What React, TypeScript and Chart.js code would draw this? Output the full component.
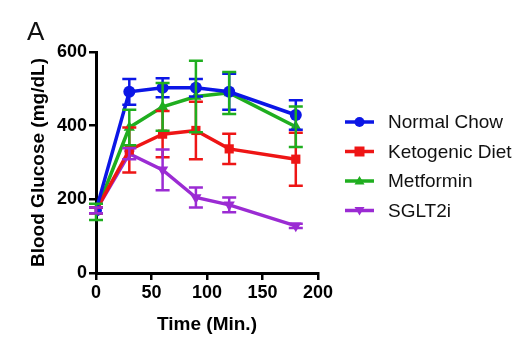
import React, { useEffect, useRef } from "react";
import { Chart, registerables } from "chart.js";

Chart.register(...registerables);

const times = [0, 30, 60, 90, 120, 180];
const seriesNames = ["Normal Chow", "Ketogenic Diet", "Metformin", "SGLT2i"];
const normalChow = [170, 492, 503, 503, 492, 429];
const normalChowErr = [8, 35, 26, 24, 49, 40];
const ketogenic = [170, 334, 377, 387, 337, 309];
const ketogenicErr = [8, 61, 63, 78, 41, 72];
const metformin = [166, 395, 451, 479, 489, 397];
const metforminErr = [22, 48, 65, 97, 57, 55];
const sglt2i = [170, 324, 280, 205, 185, 128];
const sglt2iErr = [8, 15, 55, 27, 20, 6];
const xTicks = [0, 50, 100, 150, 200];
const yTicks = [0, 200, 400, 600];

const colors = ["#0b16e6", "#ee1515", "#1fae1f", "#9b2bd3"];
const pointStyles = ["circle", "rect", "triangle", "triangle"];
const rotations = [0, 0, 0, 180];
const radii = [6, 6.5, 6.5, 6.5];
const allValues = [normalChow, ketogenic, metformin, sglt2i];
const allErrs = [normalChowErr, ketogenicErr, metforminErr, sglt2iErr];

const FONT = '"Liberation Sans", Arial, sans-serif';

const errorBarPlugin = {
  id: "errorBars",
  afterDatasetsDraw(chart: any) {
    const ctx = chart.ctx;
    const xs = chart.scales.x;
    const ys = chart.scales.y;
    ctx.save();
    chart.data.datasets.forEach((ds: any, i: number) => {
      const errs = allErrs[i];
      ctx.strokeStyle = colors[i];
      ctx.lineWidth = 2.5;
      ds.data.forEach((p: any, j: number) => {
        const e = errs[j];
        const x = xs.getPixelForValue(p.x);
        const yTop = ys.getPixelForValue(p.y + e);
        const yBot = ys.getPixelForValue(p.y - e);
        ctx.beginPath();
        ctx.moveTo(x, yTop);
        ctx.lineTo(x, yBot);
        ctx.moveTo(x - 7, yTop);
        ctx.lineTo(x + 7, yTop);
        ctx.moveTo(x - 7, yBot);
        ctx.lineTo(x + 7, yBot);
        ctx.stroke();
      });
    });
    ctx.restore();
  },
};

const legendPlugin = {
  id: "customLegend",
  afterDraw(chart: any) {
    const ctx = chart.ctx;
    ctx.save();
    ctx.fillStyle = "#111";
    ctx.font = `26px ${FONT}`;
    ctx.textBaseline = "middle";
    ctx.textAlign = "left";
    ctx.fillText("A", 27, 33);
    const startY = 122;
    const gap = 29.5;
    seriesNames.forEach((name, i) => {
      const y = startY + i * gap;
      ctx.strokeStyle = colors[i];
      ctx.fillStyle = colors[i];
      ctx.lineWidth = 3.5;
      ctx.beginPath();
      ctx.moveTo(345, y);
      ctx.lineTo(374, y);
      ctx.stroke();
      const cx = 359.5;
      const r = 5;
      ctx.beginPath();
      if (i === 0) {
        ctx.arc(cx, y, r, 0, Math.PI * 2);
      } else if (i === 1) {
        ctx.rect(cx - r, y - r, 2 * r, 2 * r);
      } else if (i === 2) {
        ctx.moveTo(cx, y - r);
        ctx.lineTo(cx + r, y + r * 0.7);
        ctx.lineTo(cx - r, y + r * 0.7);
        ctx.closePath();
      } else {
        ctx.moveTo(cx, y + r);
        ctx.lineTo(cx + r, y - r * 0.7);
        ctx.lineTo(cx - r, y - r * 0.7);
        ctx.closePath();
      }
      ctx.fill();
      ctx.fillStyle = "#111";
      ctx.font = `19px ${FONT}`;
      ctx.textBaseline = "middle";
      ctx.fillText(name, 388, y + 1);
    });
    ctx.restore();
  },
};

export default function App() {
  const ref = useRef<HTMLCanvasElement>(null);
  useEffect(() => {
    document.body.style.margin = "0";
    const canvas = ref.current!;
    const chart = new Chart(canvas, {
      type: "scatter",
      data: {
        datasets: seriesNames.map((name, i) => ({
          label: name,
          data: times.map((t, j) => ({ x: t, y: allValues[i][j] })),
          showLine: true,
          borderColor: colors[i],
          backgroundColor: colors[i],
          borderWidth: 3.5,
          pointStyle: pointStyles[i] as any,
          pointRotation: rotations[i],
          pointRadius: radii[i],
          pointBorderWidth: 0,
          tension: 0,
        })),
      },
      options: {
        animation: false,
        responsive: false,
        events: [],
        layout: { padding: { left: 0, top: 52, right: 206, bottom: 0 } },
        plugins: { legend: { display: false }, tooltip: { enabled: false } },
        scales: {
          x: {
            type: "linear",
            min: 0,
            max: 200,
            afterFit: (s: any) => {
              s.height = 81;
            },
            afterBuildTicks: (s: any) => {
              s.ticks = xTicks.map((v) => ({ value: v }));
            },
            border: { display: true, color: "#000", width: 3 },
            grid: {
              display: true,
              drawOnChartArea: false,
              drawTicks: true,
              tickLength: 7,
              color: "#000",
              lineWidth: 2.5,
            },
            ticks: {
              color: "#000",
              padding: 2,
              maxRotation: 0,
              font: { family: FONT, size: 18, weight: "bold" },
            },
            title: {
              display: true,
              text: "Time (Min.)",
              color: "#000",
              font: { family: FONT, size: 19, weight: "bold" },
              padding: { top: 0, bottom: 18 },
            },
          },
          y: {
            type: "linear",
            min: 0,
            max: 600,
            afterFit: (s: any) => {
              s.width = 96;
            },
            afterBuildTicks: (s: any) => {
              s.ticks = yTicks.map((v) => ({ value: v }));
            },
            border: { display: true, color: "#000", width: 3 },
            grid: {
              display: true,
              drawOnChartArea: false,
              drawTicks: true,
              tickLength: 7,
              color: "#000",
              lineWidth: 2.5,
            },
            ticks: {
              color: "#000",
              padding: 2,
              font: { family: FONT, size: 18, weight: "bold" },
            },
            title: {
              display: true,
              text: "Blood Glucose (mg/dL)",
              color: "#000",
              font: { family: FONT, size: 19, weight: "bold" },
              padding: { top: 27, bottom: 0 },
            },
          },
        },
      } as any,
      plugins: [errorBarPlugin, legendPlugin],
    });
    return () => chart.destroy();
  }, []);
  return (
    <div style={{ width: 524, height: 354, background: "#fff" }}>
      <canvas ref={ref} width={524} height={354} style={{ display: "block" }} />
    </div>
  );
}
